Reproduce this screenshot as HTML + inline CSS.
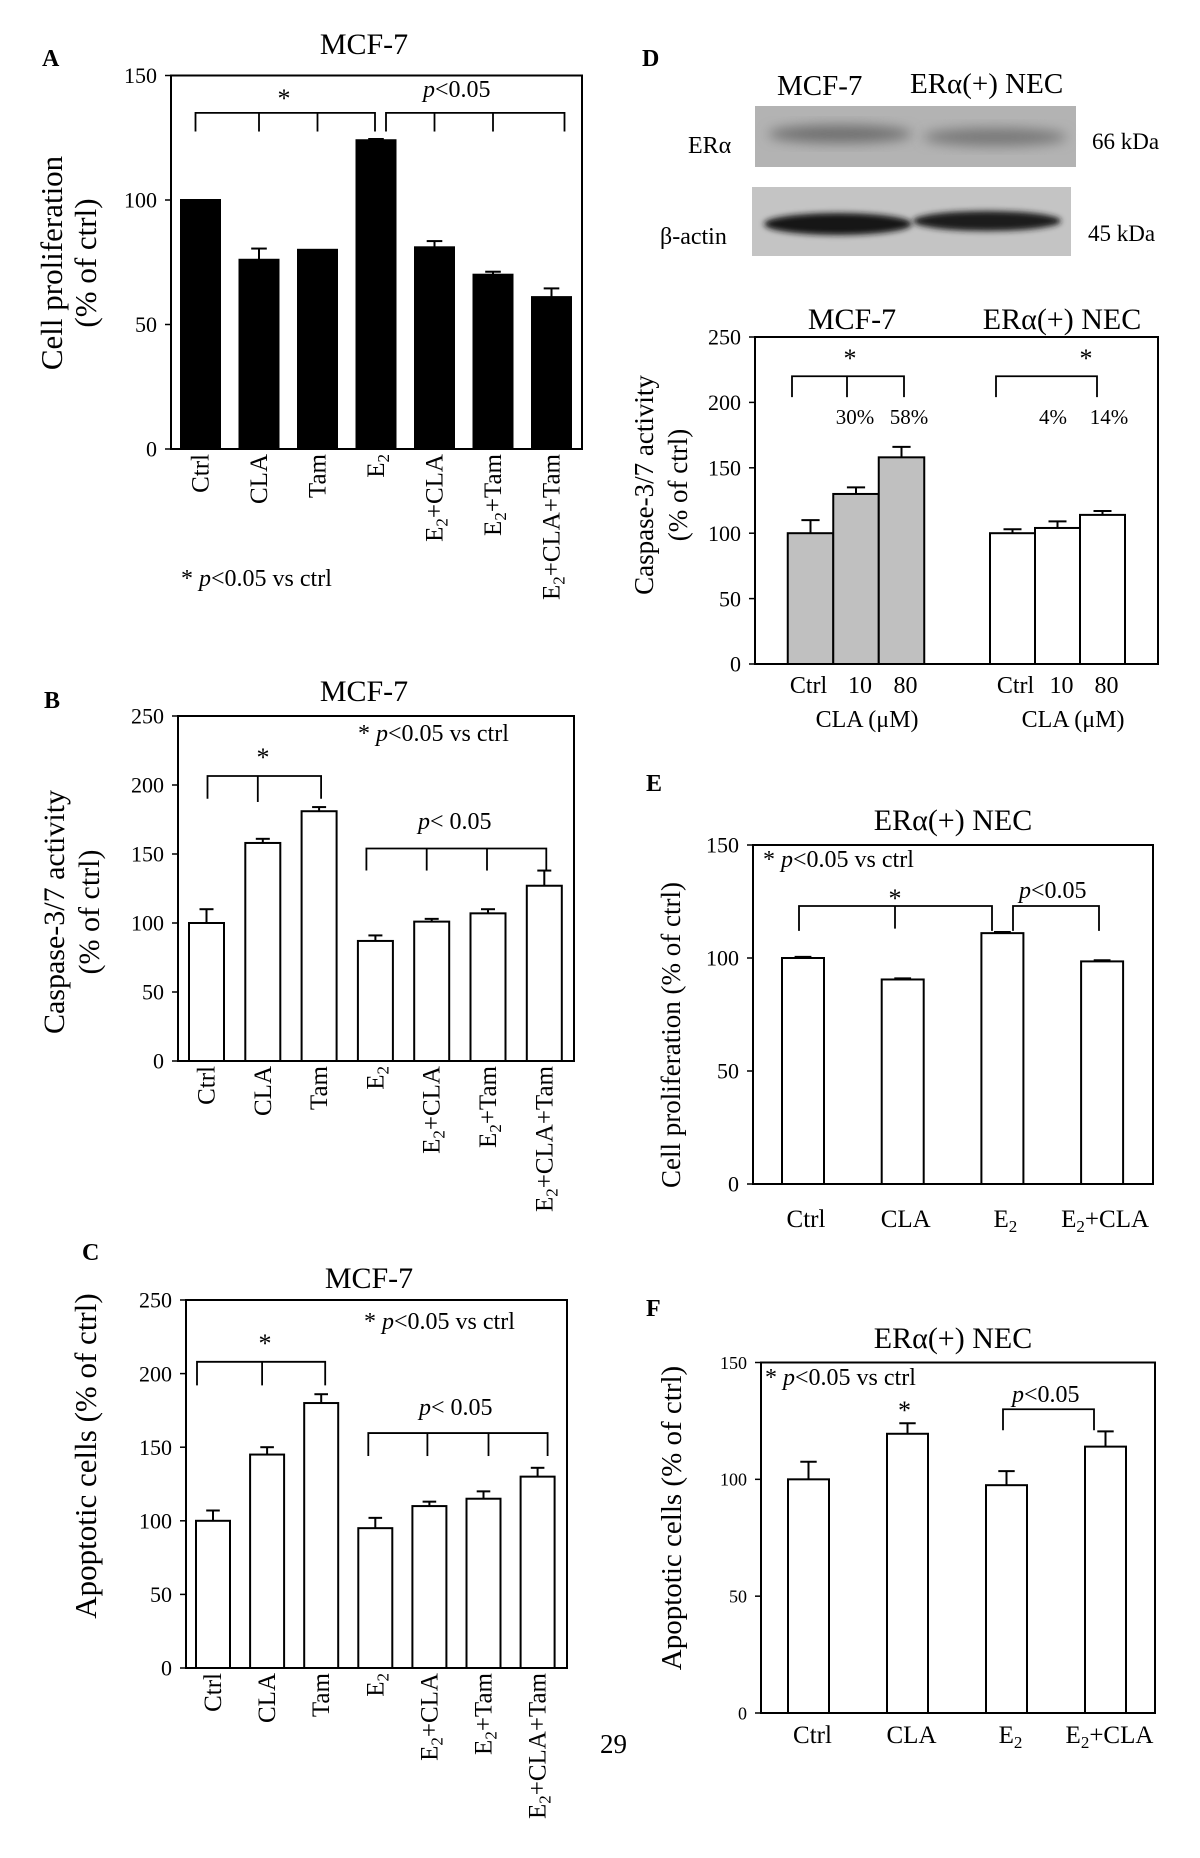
<!DOCTYPE html>
<html><head><meta charset="utf-8"><style>
html,body{margin:0;padding:0;background:#fff;}
svg{display:block;font-family:"Liberation Serif",serif;}
</style></head><body>
<svg id="fig" width="1200" height="1858" viewBox="0 0 1200 1858" xmlns="http://www.w3.org/2000/svg">
<defs>
<filter id="blur3" x="-20%" y="-50%" width="140%" height="200%"><feGaussianBlur stdDeviation="3"/></filter>
<filter id="blur6" x="-20%" y="-50%" width="140%" height="200%"><feGaussianBlur stdDeviation="6"/></filter>
</defs>
<text x="42" y="66" font-size="24" font-weight="bold">A</text>
<text x="44" y="708" font-size="24" font-weight="bold">B</text>
<text x="82" y="1260" font-size="24" font-weight="bold">C</text>
<text x="642" y="66" font-size="24" font-weight="bold">D</text>
<text x="646" y="791" font-size="24" font-weight="bold">E</text>
<text x="646" y="1316" font-size="24" font-weight="bold">F</text>
<g>
<text x="777" y="95" font-size="29">MCF-7</text>
<text x="910" y="93" font-size="29">ERα(+) NEC</text>
<rect x="755" y="106" width="321" height="61" fill="#b3b3b3"/>
<ellipse cx="840" cy="134" rx="72" ry="9" fill="#707070" filter="url(#blur6)"/>
<ellipse cx="995" cy="137" rx="72" ry="9" fill="#787878" filter="url(#blur6)"/>
<rect x="752" y="187" width="319" height="69" fill="#c4c4c4"/>
<ellipse cx="838" cy="224" rx="74" ry="11" fill="#151515" filter="url(#blur3)"/>
<ellipse cx="987" cy="221" rx="74" ry="10" fill="#1c1c1c" filter="url(#blur3)"/>
<text x="688" y="153" font-size="24">ERα</text>
<text x="660" y="244" font-size="24">β-actin</text>
<text x="1092" y="149" font-size="23">66 kDa</text>
<text x="1088" y="241" font-size="23">45 kDa</text>
</g>
<text x="600" y="1753" font-size="27">29</text>
</svg>
<script>
// ---- Panel A: MCF-7 cell proliferation
const aCategories = ["Ctrl","CLA","Tam","E2","E2+CLA","E2+Tam","E2+CLA+Tam"];
const aValues = [100, 76, 80, 124, 81, 70, 61];
const aErrors = [0, 4.5, 0, 0.5, 2.5, 1.2, 3.5];
const aTicks = [0, 50, 100, 150];
// ---- Panel B: MCF-7 caspase
const bCategories = ["Ctrl","CLA","Tam","E2","E2+CLA","E2+Tam","E2+CLA+Tam"];
const bValues = [100, 158, 181, 87, 101, 107, 127];
const bErrors = [10, 3, 3, 4, 2, 3, 11];
const bTicks = [0, 50, 100, 150, 200, 250];
// ---- Panel C: MCF-7 apoptotic cells
const cCategories = ["Ctrl","CLA","Tam","E2","E2+CLA","E2+Tam","E2+CLA+Tam"];
const cValues = [100, 145, 180, 95, 110, 115, 130];
const cErrors = [7, 5, 6, 7, 3, 5, 6];
const cTicks = [0, 50, 100, 150, 200, 250];
// ---- Panel D: caspase by CLA dose
const dCategories = ["Ctrl","10","80"];
const dMcfValues = [100, 130, 158];
const dMcfErrors = [10, 5, 8];
const dNecValues = [100, 104, 114];
const dNecErrors = [3, 5, 3];
const dTicks = [0, 50, 100, 150, 200, 250];
// ---- Panel E: NEC proliferation
const eCategories = ["Ctrl","CLA","E2","E2+CLA"];
const eValues = [100, 90.5, 111, 98.5];
const eErrors = [0.5, 0.5, 0.5, 0.5];
const eTicks = [0, 50, 100, 150];
// ---- Panel F: NEC apoptotic cells
const fCategories = ["Ctrl","CLA","E2","E2+CLA"];
const fValues = [100, 119.5, 97.5, 114];
const fErrors = [7.5, 4.5, 6, 6.5];
const fTicks = [0, 50, 100, 150];

const NS = "http://www.w3.org/2000/svg";
const svg = document.getElementById("fig");
function el(tag, attrs, parent) {
  const e = document.createElementNS(NS, tag);
  for (const k in attrs) e.setAttribute(k, attrs[k]);
  (parent || svg).appendChild(e);
  return e;
}
function catText(parent, label, x, y, size, rotate, name) {
  const t = el("text", {x: x, y: y, "font-size": size}, parent);
  
  
  if (rotate) {
    t.setAttribute("text-anchor", "end");
    t.setAttribute("transform", "rotate(-90 " + x + " " + y + ")");
  } else {
    t.setAttribute("text-anchor", "middle");
  }
  if (label.indexOf("E2") === 0) {
    t.appendChild(document.createTextNode("E"));
    const s = el("tspan", {"font-size": size * 0.68, dy: size * 0.2}, t);
    s.textContent = "2";
    if (label.length > 2) {
      const r = el("tspan", {dy: -size * 0.2}, t);
      r.textContent = label.slice(2);
    }
  } else {
    t.textContent = label;
  }
  return t;
}
function makeAxis(g, box, ymax, ticks, tickSize, prefix) {
  const yS = v => box.bottom - (v / ymax) * (box.bottom - box.top);
  const r = el("rect", {x: box.left, y: box.top, width: box.right - box.left, height: box.bottom - box.top, fill: "none", stroke: "#000", "stroke-width": 2}, g);
  
  
  ticks.forEach(v => {
    const tk = el("line", {x1: box.left - 6, x2: box.left, y1: yS(v), y2: yS(v), stroke: "#000", "stroke-width": 1.5}, g);
    
    
    const t = el("text", {x: box.left - 14, y: yS(v) + tickSize * 0.35, "font-size": tickSize, "text-anchor": "end"}, g);
    
    
    t.textContent = v;
  });
  return yS;
}
function drawBars(g, yS, centers, width, values, errors, fill, prefix) {
  values.forEach((v, i) => {
    const x = centers[i];
    const b = el("rect", {x: x - width / 2, y: yS(v), width: width, height: yS(0) - yS(v), fill: fill, stroke: "#000", "stroke-width": 2}, g);
    
    
    if (errors[i] > 0) {
      const top = yS(v + errors[i]);
      const e1 = el("line", {x1: x, x2: x, y1: yS(v), y2: top, stroke: "#000", "stroke-width": 2}, g);
      
      
      const cw = Math.max(5, width * 0.2);
      const e2 = el("line", {x1: x - cw, x2: x + cw, y1: top, y2: top, stroke: "#000", "stroke-width": 2}, g);
      
      
    }
  });
}
function bracket(g, x1, x2, mids, y, yEnd, yMid, name) {
  const p = el("path", {d: "M" + x1 + " " + yEnd + " V" + y + " H" + x2 + " V" + yEnd, fill: "none", stroke: "#000", "stroke-width": 1.8}, g);
  
  
  mids.forEach(mx => {
    const l = el("line", {x1: mx, x2: mx, y1: y, y2: yMid, stroke: "#000", "stroke-width": 1.8}, g);
    
    
  });
}
function txt(g, s, x, y, size, name, anchor) {
  const t = el("text", {x: x, y: y, "font-size": size, "text-anchor": anchor || "start"}, g);
  
  
  t.innerHTML = s;
  return t;
}
function yTitle(g, lines, x, cy, size, name) {
  lines.forEach((s, i) => {
    const t = el("text", {x: x[i], y: cy, "font-size": size, "text-anchor": "middle", transform: "rotate(-90 " + x[i] + " " + cy + ")"}, g);
    
    
    t.textContent = s;
  });
}
function centersOf(x0, step, n) { const c = []; for (let i = 0; i < n; i++) c.push(x0 + i * step); return c; }
const P = '<tspan font-style="italic">p</tspan>';
const CAT = 25, TICK = 22, TITLE = 30, NOTE = 24;

// ===== Panel A
(function () {
  const g = el("g", {});
  
  
  const box = {left: 171, right: 582, top: 75.5, bottom: 449};
  const yS = makeAxis(g, box, 150, aTicks, TICK, 'panel-a');
  const cx = centersOf(200.5, 58.5, aCategories.length);
  drawBars(g, yS, cx, 39, aValues, aErrors, "#000", 'panel-a');
  aCategories.forEach((c, i) => catText(g, c, cx[i] + 8, box.bottom + 5, CAT, true, 'panel-a-x-label'));
  txt(g, "MCF-7", 364, 54, TITLE, 'panel-a-title', 'middle');
  yTitle(g, ["Cell proliferation", "(% of ctrl)"], [62, 96], 263, 31, 'panel-a-y-title');
  bracket(g, cx[0] - 5, cx[3] - 1, [cx[1], cx[2]], yS(135), yS(127.5), yS(127.5), 'panel-a-bracket-star');
  bracket(g, cx[3] + 10, cx[6] + 13, [cx[4], cx[5]], yS(135), yS(127.5), yS(127.5), 'panel-a-bracket-p');
  txt(g, "*", 284, 107, 26, 'panel-a-star', 'middle');
  txt(g, P + "&lt;0.05", 423, 97, NOTE, 'panel-a-pvalue');
  txt(g, "* " + P + "&lt;0.05 vs ctrl", 181, 586, NOTE, 'panel-a-footnote');
})();

// ===== Panel B
(function () {
  const g = el("g", {});
  
  
  const box = {left: 178, right: 574, top: 716, bottom: 1061};
  const yS = makeAxis(g, box, 250, bTicks, TICK, 'panel-b');
  const cx = centersOf(206.5, 56.3, bCategories.length);
  drawBars(g, yS, cx, 35, bValues, bErrors, "#fff", 'panel-b');
  bCategories.forEach((c, i) => catText(g, c, cx[i] + 8, box.bottom + 5, CAT, true, 'panel-b-x-label'));
  txt(g, "MCF-7", 364, 701, TITLE, 'panel-b-title', 'middle');
  yTitle(g, ["Caspase-3/7 activity", "(% of ctrl)"], [64, 99], 912, 30, 'panel-b-y-title');
  txt(g, "* " + P + "&lt;0.05 vs ctrl", 358, 741, NOTE, 'panel-b-legend-note');
  bracket(g, cx[0] + 1, cx[2] + 2, [cx[1] - 5], yS(206.5), yS(190), yS(187.7), 'panel-b-bracket-star');
  txt(g, "*", 263, 766, 26, 'panel-b-star', 'middle');
  bracket(g, cx[3] - 9, cx[6] + 2, [cx[4] - 5, cx[5] - 1], yS(154), yS(138), yS(138), 'panel-b-bracket-p');
  txt(g, P + "&lt; 0.05", 418, 829, NOTE, 'panel-b-pvalue');
})();

// ===== Panel C
(function () {
  const g = el("g", {});
  
  
  const box = {left: 186, right: 567, top: 1300, bottom: 1668};
  const yS = makeAxis(g, box, 250, cTicks, TICK, 'panel-c');
  const cx = centersOf(213, 54.1, cCategories.length);
  drawBars(g, yS, cx, 34, cValues, cErrors, "#fff", 'panel-c');
  cCategories.forEach((c, i) => catText(g, c, cx[i] + 8, box.bottom + 5, CAT, true, 'panel-c-x-label'));
  txt(g, "MCF-7", 369, 1288, TITLE, 'panel-c-title', 'middle');
  yTitle(g, ["Apoptotic cells (% of ctrl)"], [96], 1456, 31, 'panel-c-y-title');
  txt(g, "* " + P + "&lt;0.05 vs ctrl", 364, 1329, NOTE, 'panel-c-legend-note');
  bracket(g, cx[0] - 16, cx[2] + 4, [cx[1] - 5], yS(208), yS(192), yS(192), 'panel-c-bracket-star');
  txt(g, "*", 265, 1352, 26, 'panel-c-star', 'middle');
  bracket(g, cx[3] - 7, cx[6] + 10, [cx[4] - 2, cx[5] + 5], yS(159.6), yS(144), yS(144), 'panel-c-bracket-p');
  txt(g, P + "&lt; 0.05", 419, 1415, NOTE, 'panel-c-pvalue');
})();

// ===== Panel D chart
(function () {
  const g = el("g", {});
  
  
  const box = {left: 755, right: 1158, top: 337, bottom: 664};
  const yS = makeAxis(g, box, 250, dTicks, TICK, 'panel-d');
  const mx = centersOf(810.5, 45.5, dCategories.length);
  const nx = centersOf(1012.5, 45, dCategories.length);
  drawBars(g, yS, mx, 45.5, dMcfValues, dMcfErrors, "#c0c0c0", 'panel-d-mcf7');
  drawBars(g, yS, nx, 45, dNecValues, dNecErrors, "#fff", 'panel-d-nec');
  dCategories.forEach((c, i) => {
    catText(g, c, mx[i] + (i === 0 ? -2 : 4), 693, 24, false, 'panel-d-x-label');
    catText(g, c, nx[i] + (i === 0 ? 3 : 4), 693, 24, false, 'panel-d-x-label');
  });
  txt(g, "CLA (μM)", 867, 727, 24, 'panel-d-x-title', 'middle');
  txt(g, "CLA (μM)", 1073, 727, 24, 'panel-d-x-title', 'middle');
  txt(g, "MCF-7", 852, 329, TITLE, 'panel-d-title-mcf7', 'middle');
  txt(g, "ERα(+) NEC", 1062, 329, TITLE, 'panel-d-title-nec', 'middle');
  yTitle(g, ["Caspase-3/7 activity", "(% of ctrl)"], [653, 687], 485, 27, 'panel-d-y-title');
  bracket(g, 792, 904, [847], yS(220), yS(204), yS(204), 'panel-d-bracket-mcf7');
  bracket(g, 996, 1097, [], yS(220), yS(204), yS(204), 'panel-d-bracket-nec');
  txt(g, "*", 850, 367, 26, 'panel-d-star-mcf7', 'middle');
  txt(g, "*", 1086, 367, 26, 'panel-d-star-nec', 'middle');
  txt(g, "30%", 855, 424, 21, 'panel-d-pct-10', 'middle');
  txt(g, "58%", 909, 424, 21, 'panel-d-pct-80', 'middle');
  txt(g, "4%", 1053, 424, 21, 'panel-d-pct-nec-10', 'middle');
  txt(g, "14%", 1109, 424, 21, 'panel-d-pct-nec-80', 'middle');
})();

// ===== Panel E
(function () {
  const g = el("g", {});
  
  
  const box = {left: 753, right: 1153, top: 845, bottom: 1184};
  const yS = makeAxis(g, box, 150, eTicks, TICK, 'panel-e');
  const cx = centersOf(803, 99.7, eCategories.length);
  drawBars(g, yS, cx, 42, eValues, eErrors, "#fff", 'panel-e');
  eCategories.forEach((c, i) => catText(g, c, cx[i] + 3, 1227, CAT, false, 'panel-e-x-label'));
  txt(g, "ERα(+) NEC", 953, 830, TITLE, 'panel-e-title', 'middle');
  yTitle(g, ["Cell proliferation (% of ctrl)"], [680], 1035, 27, 'panel-e-y-title');
  txt(g, "* " + P + "&lt;0.05 vs ctrl", 763, 867, NOTE, 'panel-e-legend-note');
  bracket(g, 799, 992, [895], yS(123), yS(112), yS(113), 'panel-e-bracket-star');
  txt(g, "*", 895, 907, 26, 'panel-e-star', 'middle');
  bracket(g, 1013, 1099, [], yS(123), yS(112), yS(112), 'panel-e-bracket-p');
  txt(g, P + "&lt;0.05", 1019, 898, NOTE, 'panel-e-pvalue');
})();

// ===== Panel F
(function () {
  const g = el("g", {});
  
  
  const box = {left: 761, right: 1155, top: 1362.5, bottom: 1713};
  const yS = makeAxis(g, box, 150, fTicks, 18, 'panel-f');
  const cx = centersOf(808.5, 99, fCategories.length);
  drawBars(g, yS, cx, 41, fValues, fErrors, "#fff", 'panel-f');
  fCategories.forEach((c, i) => catText(g, c, cx[i] + 4, 1743, CAT, false, 'panel-f-x-label'));
  txt(g, "ERα(+) NEC", 953, 1348, TITLE, 'panel-f-title', 'middle');
  yTitle(g, ["Apoptotic cells (% of ctrl)"], [681], 1518, 29, 'panel-f-y-title');
  txt(g, "* " + P + "&lt;0.05 vs ctrl", 765, 1385, NOTE, 'panel-f-legend-note');
  txt(g, "*", cx[1] - 3, 1419, 26, 'panel-f-star', 'middle');
  bracket(g, 1003, 1094, [], yS(130), yS(121), yS(121), 'panel-f-bracket-p');
  txt(g, P + "&lt;0.05", 1012, 1402, NOTE, 'panel-f-pvalue');
})();
</script>
</body></html>
